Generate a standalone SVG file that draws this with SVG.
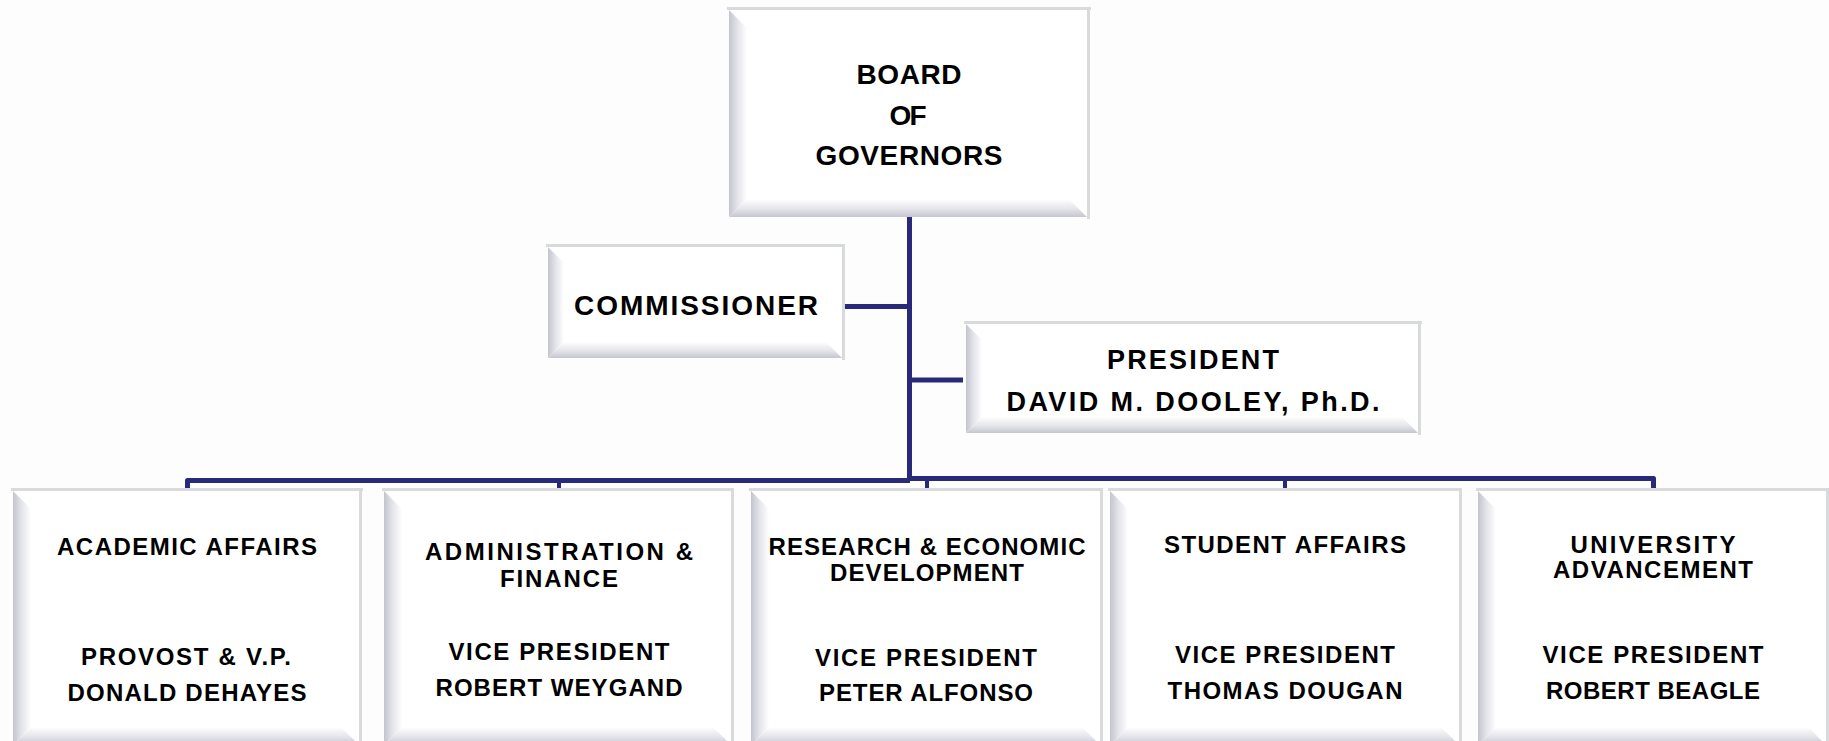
<svg xmlns="http://www.w3.org/2000/svg" width="1829" height="741" viewBox="0 0 1829 741">
<defs>
<linearGradient id="gl" x1="0" y1="0" x2="1" y2="0"><stop offset="0" stop-color="#c4c4cf"/><stop offset="0.45" stop-color="#e2e2e9"/><stop offset="1" stop-color="#ffffff"/></linearGradient>
<linearGradient id="gb" x1="0" y1="0" x2="0" y2="1"><stop offset="0" stop-color="#ffffff"/><stop offset="0.55" stop-color="#e4e4ea"/><stop offset="1" stop-color="#c6c6d0"/></linearGradient>
</defs>
<style>
.ln{fill:#d8dadc}
.face{fill:#ffffff}
.lb{fill:url(#gl)}
.bb{fill:url(#gb)}
text{font-family:"Liberation Sans",Arial,sans-serif;font-weight:bold;fill:#000;text-anchor:middle}
.t28{font-size:28px}
.t27{font-size:27px}
.t24{font-size:24px}
.con{stroke:#29297a;stroke-width:5;fill:none;stroke-linejoin:round}
.tick{stroke:#29297a;stroke-width:4;fill:none}
</style>
<rect width="1829" height="741" fill="#fdfdfd"/>

<g id="connectors">
<line class="con" x1="909.5" y1="216" x2="909.5" y2="481"/>
<line class="con" x1="845" y1="306.5" x2="910" y2="306.5"/>
<line class="con" x1="909" y1="380" x2="963" y2="380"/>
<path class="con" d="M187.5,490 V480.5 H910"/>
<path class="con" d="M909,478.5 H1653.5 V489"/>
<line class="tick" x1="559" y1="480" x2="559" y2="489"/>
<line class="tick" x1="927" y1="479" x2="927" y2="489"/>
<line class="tick" x1="1285" y1="479" x2="1285" y2="489"/>
</g>

<g id="board">
<rect class="ln" x="727" y="7" width="364" height="3"/>
<rect class="ln" x="1087" y="7" width="3" height="212"/>
<rect class="face" x="729" y="10" width="358" height="207"/>
<polygon class="lb" points="729,10 747,28 747,199 729,217"/>
<polygon class="bb" points="729,217 747,199 1069,199 1087,217"/>
<text class="t28" x="909" y="84" textLength="105" lengthAdjust="spacing">BOARD</text>
<text class="t28" x="908" y="125" textLength="37" lengthAdjust="spacing">OF</text>
<text class="t28" x="909" y="165" textLength="187" lengthAdjust="spacing">GOVERNORS</text>
</g>

<g id="commissioner">
<rect class="ln" x="546" y="244" width="299" height="3"/>
<rect class="ln" x="842" y="244" width="3" height="116"/>
<rect class="face" x="548" y="247" width="294" height="111"/>
<polygon class="lb" points="548,247 564,263 564,342 548,358"/>
<polygon class="bb" points="548,358 564,342 826,342 842,358"/>
<text class="t28" x="696" y="315" textLength="244" lengthAdjust="spacing">COMMISSIONER</text>
</g>

<g id="president">
<rect class="ln" x="964" y="321" width="458" height="3"/>
<rect class="ln" x="1418" y="321" width="3" height="114"/>
<rect class="face" x="966" y="324" width="452" height="109"/>
<polygon class="lb" points="966,324 982,340 982,417 966,433"/>
<polygon class="bb" points="966,433 982,417 1402,417 1418,433"/>
<text class="t27" x="1193" y="369" textLength="172" lengthAdjust="spacing">PRESIDENT</text>
<text class="t27" x="1193" y="411" textLength="373" lengthAdjust="spacing">DAVID M. DOOLEY, Ph.D.</text>
</g>

<g id="academic-affairs">
<rect class="ln" x="11" y="488" width="352" height="3"/>
<rect class="ln" x="359" y="488" width="3" height="260"/>
<rect class="face" x="13" y="491" width="346" height="254"/>
<polygon class="lb" points="13,491 31,509 31,727 13,745"/>
<polygon class="bb" points="13,745 31,727 341,727 359,745"/>
<text class="t24" x="187" y="555" textLength="260" lengthAdjust="spacing">ACADEMIC AFFAIRS</text>
<text class="t24" x="186" y="665" textLength="210" lengthAdjust="spacing">PROVOST &amp; V.P.</text>
<text class="t24" x="187" y="701" textLength="239" lengthAdjust="spacing">DONALD DEHAYES</text>
</g>

<g id="administration-finance">
<rect class="ln" x="382" y="488" width="352" height="3"/>
<rect class="ln" x="731" y="488" width="3" height="260"/>
<rect class="face" x="384" y="491" width="347" height="254"/>
<polygon class="lb" points="384,491 402,509 402,727 384,745"/>
<polygon class="bb" points="384,745 402,727 713,727 731,745"/>
<text class="t24" x="559" y="560" textLength="268" lengthAdjust="spacing">ADMINISTRATION &amp;</text>
<text class="t24" x="559" y="587" textLength="118" lengthAdjust="spacing">FINANCE</text>
<text class="t24" x="559" y="660" textLength="221" lengthAdjust="spacing">VICE PRESIDENT</text>
<text class="t24" x="559" y="696" textLength="247" lengthAdjust="spacing">ROBERT WEYGAND</text>
</g>

<g id="research-economic-development">
<rect class="ln" x="749" y="488" width="354" height="3"/>
<rect class="ln" x="1100" y="488" width="3" height="260"/>
<rect class="face" x="751" y="491" width="349" height="254"/>
<polygon class="lb" points="751,491 769,509 769,727 751,745"/>
<polygon class="bb" points="751,745 769,727 1082,727 1100,745"/>
<text class="t24" x="927" y="555" textLength="317" lengthAdjust="spacing">RESEARCH &amp; ECONOMIC</text>
<text class="t24" x="927" y="581" textLength="194" lengthAdjust="spacing">DEVELOPMENT</text>
<text class="t24" x="926" y="666" textLength="222" lengthAdjust="spacing">VICE PRESIDENT</text>
<text class="t24" x="926" y="701" textLength="214" lengthAdjust="spacing">PETER ALFONSO</text>
</g>

<g id="student-affairs">
<rect class="ln" x="1108" y="488" width="354" height="3"/>
<rect class="ln" x="1459" y="488" width="3" height="260"/>
<rect class="face" x="1110" y="491" width="349" height="254"/>
<polygon class="lb" points="1110,491 1128,509 1128,727 1110,745"/>
<polygon class="bb" points="1110,745 1128,727 1441,727 1459,745"/>
<text class="t24" x="1285" y="553" textLength="242" lengthAdjust="spacing">STUDENT AFFAIRS</text>
<text class="t24" x="1285" y="663" textLength="220" lengthAdjust="spacing">VICE PRESIDENT</text>
<text class="t24" x="1285" y="699" textLength="235" lengthAdjust="spacing">THOMAS DOUGAN</text>
</g>

<g id="university-advancement">
<rect class="ln" x="1476" y="488" width="353" height="3"/>
<rect class="ln" x="1826" y="488" width="3" height="260"/>
<rect class="face" x="1478" y="491" width="348" height="254"/>
<polygon class="lb" points="1478,491 1496,509 1496,727 1478,745"/>
<polygon class="bb" points="1478,745 1496,727 1808,727 1826,745"/>
<text class="t24" x="1653" y="553" textLength="165" lengthAdjust="spacing">UNIVERSITY</text>
<text class="t24" x="1653" y="578" textLength="200" lengthAdjust="spacing">ADVANCEMENT</text>
<text class="t24" x="1653" y="663" textLength="221" lengthAdjust="spacing">VICE PRESIDENT</text>
<text class="t24" x="1653" y="699" textLength="214" lengthAdjust="spacing">ROBERT BEAGLE</text>
</g>
</svg>
